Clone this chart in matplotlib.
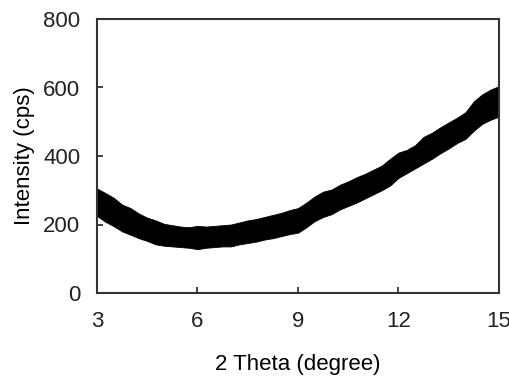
import numpy as np
import matplotlib
matplotlib.use('Agg')
from matplotlib import pyplot as plt

# 2 theta positions (degree) and the upper / lower edge of the noisy trace (cps)
two_theta = [3.0, 3.25, 3.5, 3.75, 4.0, 4.25, 4.5, 4.75, 5.0, 5.25, 5.5, 5.75,
             6.0, 6.25, 6.5, 6.75, 7.0, 7.25, 7.5, 7.75, 8.0, 8.25, 8.5, 8.75,
             9.0, 9.25, 9.5, 9.75, 10.0, 10.25, 10.5, 10.75, 11.0, 11.25, 11.5, 11.75,
             12.0, 12.25, 12.5, 12.75, 13.0, 13.25, 13.5, 13.75, 14.0, 14.25, 14.5, 14.75, 15.0]
upper = [305, 292, 278, 258, 248, 232, 220, 212, 202, 198, 194, 192,
         196, 194, 196, 198, 200, 206, 212, 216, 222, 228, 234, 242,
         248, 264, 282, 296, 302, 316, 326, 338, 348, 360, 372, 392,
         410, 418, 432, 456, 468, 484, 498, 512, 528, 560, 580, 594, 604]
lower = [225, 208, 195, 180, 170, 160, 152, 142, 138, 136, 134, 132,
         128, 132, 134, 136, 136, 142, 146, 150, 156, 160, 166, 172,
         176, 192, 210, 222, 230, 244, 254, 264, 276, 288, 300, 314,
         336, 350, 364, 378, 392, 408, 422, 438, 450, 474, 494, 506, 515]

plt.rcParams['font.family'] = ['Liberation Sans', 'DejaVu Sans']

fig = plt.figure(figsize=(5.1, 3.83), dpi=100)
ax = fig.add_axes([97/510, 1 - 293/383, (499 - 97)/510, (293 - 19)/383])

ax.fill_between(two_theta, lower, upper, color='black', linewidth=0.6, edgecolor='black')

ax.set_xlim(3, 15)
ax.set_ylim(0, 800)
ax.set_xticks([3, 6, 9, 12, 15])
ax.set_yticks([0, 200, 400, 600, 800])
ax.tick_params(direction='in', length=4, width=1.2, labelsize=16, colors='#222222')
ax.tick_params(axis='x', pad=13)
ax.tick_params(axis='y', pad=12)
for s in ax.spines.values():
    s.set_linewidth(1.5)
    s.set_color('#333333')

ax.set_xlabel('2 Theta (degree)', fontsize=16, labelpad=16)
ax.set_ylabel('Intensity (cps)', fontsize=16, labelpad=6)

plt.savefig('out.png', dpi=100)
